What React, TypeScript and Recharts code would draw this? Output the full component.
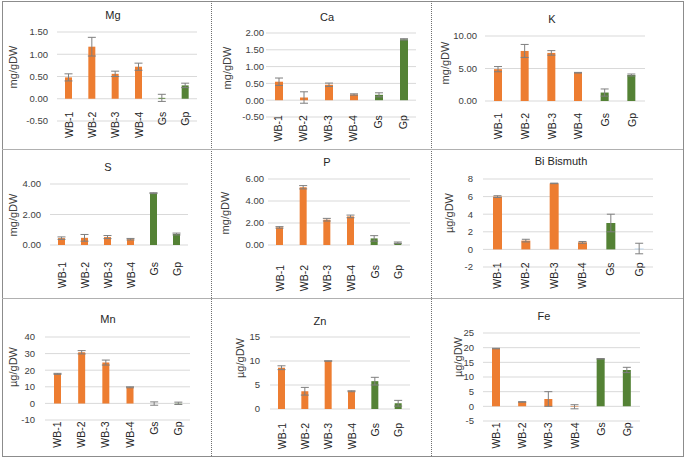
import { BarChart, Bar, XAxis, YAxis, CartesianGrid, ErrorBar, Cell, ReferenceDot } from 'recharts';

const categories = ['WB-1', 'WB-2', 'WB-3', 'WB-4', 'Gs', 'Gp'];

const mgMean = [0.48, 1.17, 0.56, 0.72, 0.02, 0.3];
const mgErr = [0.08, 0.21, 0.06, 0.08, 0.08, 0.05];
const mgTicks = [-0.5, 0, 0.5, 1, 1.5];

const caMean = [0.55, 0.08, 0.46, 0.17, 0.16, 1.81];
const caErr = [0.11, 0.17, 0.05, 0.02, 0.06, 0.02];
const caTicks = [-0.5, 0, 0.5, 1, 1.5, 2];

const kMean = [4.9, 7.7, 7.4, 4.35, 1.3, 4.0];
const kErr = [0.4, 1.0, 0.35, 0.05, 0.55, 0.15];
const kTicks = [0, 5, 10];

const sMean = [0.45, 0.47, 0.52, 0.38, 3.4, 0.72];
const sErr = [0.08, 0.22, 0.1, 0.05, 0.03, 0.06];
const sTicks = [0, 2, 4];

const pMean = [1.6, 5.25, 2.3, 2.6, 0.6, 0.2];
const pErr = [0.07, 0.15, 0.12, 0.12, 0.25, 0.07];
const pTicks = [0, 2, 4, 6];

const biMean = [6.0, 1.0, 7.5, 0.8, 3.0, 0.1];
const biErr = [0.1, 0.15, 0.03, 0.1, 1.0, 0.6];
const biTicks = [-2, 0, 2, 4, 6, 8];

const mnMean = [17.8, 30.8, 24.6, 9.7, -0.1, 0.05];
const mnErr = [0.3, 1.0, 1.5, 0.3, 1.0, 0.7];
const mnTicks = [-10, 0, 10, 20, 30, 40];

const znMean = [8.6, 3.7, 10.0, 3.7, 5.8, 1.2];
const znErr = [0.4, 0.8, 0.05, 0.1, 0.8, 0.6];
const znTicks = [0, 5, 10, 15];

const feMean = [19.7, 1.5, 2.5, -0.15, 16.2, 12.4];
const feErr = [0.1, 0.1, 2.5, 0.7, 0.1, 0.9];
const feTicks = [-5, 0, 5, 10, 15, 20, 25];

const ORANGE = '#ED7D31';
const GREEN = '#548235';
const barColors = [ORANGE, ORANGE, ORANGE, ORANGE, GREEN, GREEN];
const biColors = [ORANGE, ORANGE, ORANGE, ORANGE, GREEN, '#BDD7EE'];

const FONT = '"Liberation Sans", Arial, sans-serif';

// layout per panel, absolute page coords
const panels = [
  { title: 'Mg', unit: 'mg/gDW', mean: mgMean, err: mgErr, ticks: mgTicks, dec: 2, colors: barColors,
    cell: [2, 1, 209, 148], tickEnd: 48, plotL: 57, plotR: 197, yTop: 32, yBot: 121, titleXY: [113, 15], labelXY: [13, 67], gap: 13 },
  { title: 'Ca', unit: 'mg/gDW', mean: caMean, err: caErr, ticks: caTicks, dec: 2, colors: barColors,
    cell: [211, 1, 220, 148], tickEnd: 264, plotL: 266, plotR: 416, yTop: 33, yBot: 117, titleXY: [327, 17], labelXY: [227, 68], gap: 15 },
  { title: 'K', unit: 'mg/gDW', mean: kMean, err: kErr, ticks: kTicks, dec: 2, colors: barColors,
    cell: [431, 1, 252, 148], tickEnd: 477, plotL: 485, plotR: 645, yTop: 36, yBot: 101, titleXY: [552, 19], labelXY: [445, 63], gap: 12 },
  { title: 'S', unit: 'mg/gDW', mean: sMean, err: sErr, ticks: sTicks, dec: 2, colors: barColors,
    cell: [2, 149, 209, 149], tickEnd: 41, plotL: 50, plotR: 188, yTop: 184, yBot: 245, titleXY: [108, 167], labelXY: [13, 215], gap: 17 },
  { title: 'P', unit: 'mg/gDW', mean: pMean, err: pErr, ticks: pTicks, dec: 2, colors: barColors,
    cell: [211, 149, 220, 149], tickEnd: 264, plotL: 268, plotR: 410, yTop: 179, yBot: 245, titleXY: [327, 162], labelXY: [225, 213], gap: 20 },
  { title: 'Bi Bismuth', unit: 'µg/gDW', mean: biMean, err: biErr, ticks: biTicks, dec: 0, colors: biColors,
    cell: [431, 149, 252, 149], tickEnd: 473, plotL: 483, plotR: 653, yTop: 179, yBot: 267, titleXY: [561, 161], labelXY: [449, 213], gap: 13 },
  { title: 'Mn', unit: 'µg/gDW', mean: mnMean, err: mnErr, ticks: mnTicks, dec: 0, colors: barColors,
    cell: [2, 298, 209, 158], tickEnd: 35, plotL: 45, plotR: 190, yTop: 337, yBot: 420, titleXY: [108, 319], labelXY: [13, 367], gap: 18 },
  { title: 'Zn', unit: 'µg/gDW', mean: znMean, err: znErr, ticks: znTicks, dec: 0, colors: barColors,
    cell: [211, 298, 220, 158], tickEnd: 260, plotL: 270, plotR: 410, yTop: 337, yBot: 409, titleXY: [320, 321], labelXY: [240, 358], gap: 14 },
  { title: 'Fe', unit: 'µg/gDW', mean: feMean, err: feErr, ticks: feTicks, dec: 0, colors: barColors,
    cell: [431, 298, 252, 158], tickEnd: 474, plotL: 483, plotR: 640, yTop: 333, yBot: 421, titleXY: [544, 316], labelXY: [458, 357], gap: 16 },
];

function Panel({ p }: { p: any }) {
  const [cx, cy, cw, ch] = p.cell;
  const data = categories.map((name, i) => ({ name, value: p.mean[i], err: p.err[i] }));
  const band = (p.plotR - p.plotL) / categories.length;
  const lo = p.ticks[0];
  const hi = p.ticks[p.ticks.length - 1];

  return (
    <>
      <div style={{ position: 'absolute', left: cx, top: cy }}>
        <BarChart
          width={cw}
          height={ch}
          data={data}
          margin={{ top: p.yTop - cy, bottom: cy + ch - p.yBot, left: 0, right: cx + cw - p.plotR }}
        >
          <CartesianGrid vertical={false} stroke="#d9d9d9" />
          <XAxis dataKey="name" hide />
          <YAxis
            width={p.plotL - cx}
            domain={[lo, hi]}
            ticks={p.ticks}
            interval={0}
            allowDataOverflow
            axisLine={false}
            tickLine={false}
            tickSize={0}
            tickMargin={p.plotL - p.tickEnd}
            tick={{ fontSize: 9.5, fill: '#404040', fontFamily: FONT }}
            tickFormatter={(v: number) => v.toFixed(p.dec)}
          />
          <Bar dataKey="value" barSize={Math.round(band * 0.31)} isAnimationActive={false}>
            {data.map((d, i) => (
              <Cell key={d.name} fill={p.colors[i]} />
            ))}
            <ErrorBar dataKey="err" direction="y" width={4} stroke="#7f7f7f" strokeWidth={1} />
          </Bar>
          {categories.map(c => (
            <ReferenceDot
              key={c}
              x={c}
              y={0}
              r={0}
              shape={(s: any) => (
                <text
                  x={s.cx}
                  y={s.cy + p.gap}
                  transform={`rotate(-90 ${s.cx} ${s.cy + p.gap})`}
                  textAnchor="end"
                  dominantBaseline="central"
                  fontSize={10.5}
                  fontFamily={FONT}
                  fill="#262626"
                >
                  {c}
                </text>
              )}
            />
          ))}
        </BarChart>
      </div>
      <div
        style={{
          position: 'absolute', left: p.titleXY[0], top: p.titleXY[1], transform: 'translate(-50%, -50%)',
          fontFamily: FONT, fontSize: 11, color: '#262626', whiteSpace: 'nowrap',
        }}
      >
        {p.title}
      </div>
      <div
        style={{
          position: 'absolute', left: p.labelXY[0], top: p.labelXY[1], transform: 'translate(-50%, -50%) rotate(-90deg)',
          fontFamily: FONT, fontSize: 11, color: '#404040', whiteSpace: 'nowrap',
        }}
      >
        {p.unit}
      </div>
    </>
  );
}

export default function App() {
  return (
    <div style={{ position: 'absolute', left: 0, top: 0, width: 685, height: 458, background: '#fff', overflow: 'hidden' }}>
      {panels.map(p => (
        <Panel key={p.title} p={p} />
      ))}
      <div style={{ position: 'absolute', left: 2, top: 1, width: 680, height: 454, border: '1px solid #8c8c8c' }} />
      <div style={{ position: 'absolute', left: 211, top: 1, width: 0, height: 455, borderLeft: '1px dotted #6f6f6f' }} />
      <div style={{ position: 'absolute', left: 431, top: 1, width: 0, height: 455, borderLeft: '1px dotted #6f6f6f' }} />
      <div style={{ position: 'absolute', left: 2, top: 149, width: 681, height: 0, borderTop: '1px solid #b0b0b0' }} />
      <div style={{ position: 'absolute', left: 2, top: 298, width: 681, height: 0, borderTop: '1px solid #b0b0b0' }} />
    </div>
  );
}
